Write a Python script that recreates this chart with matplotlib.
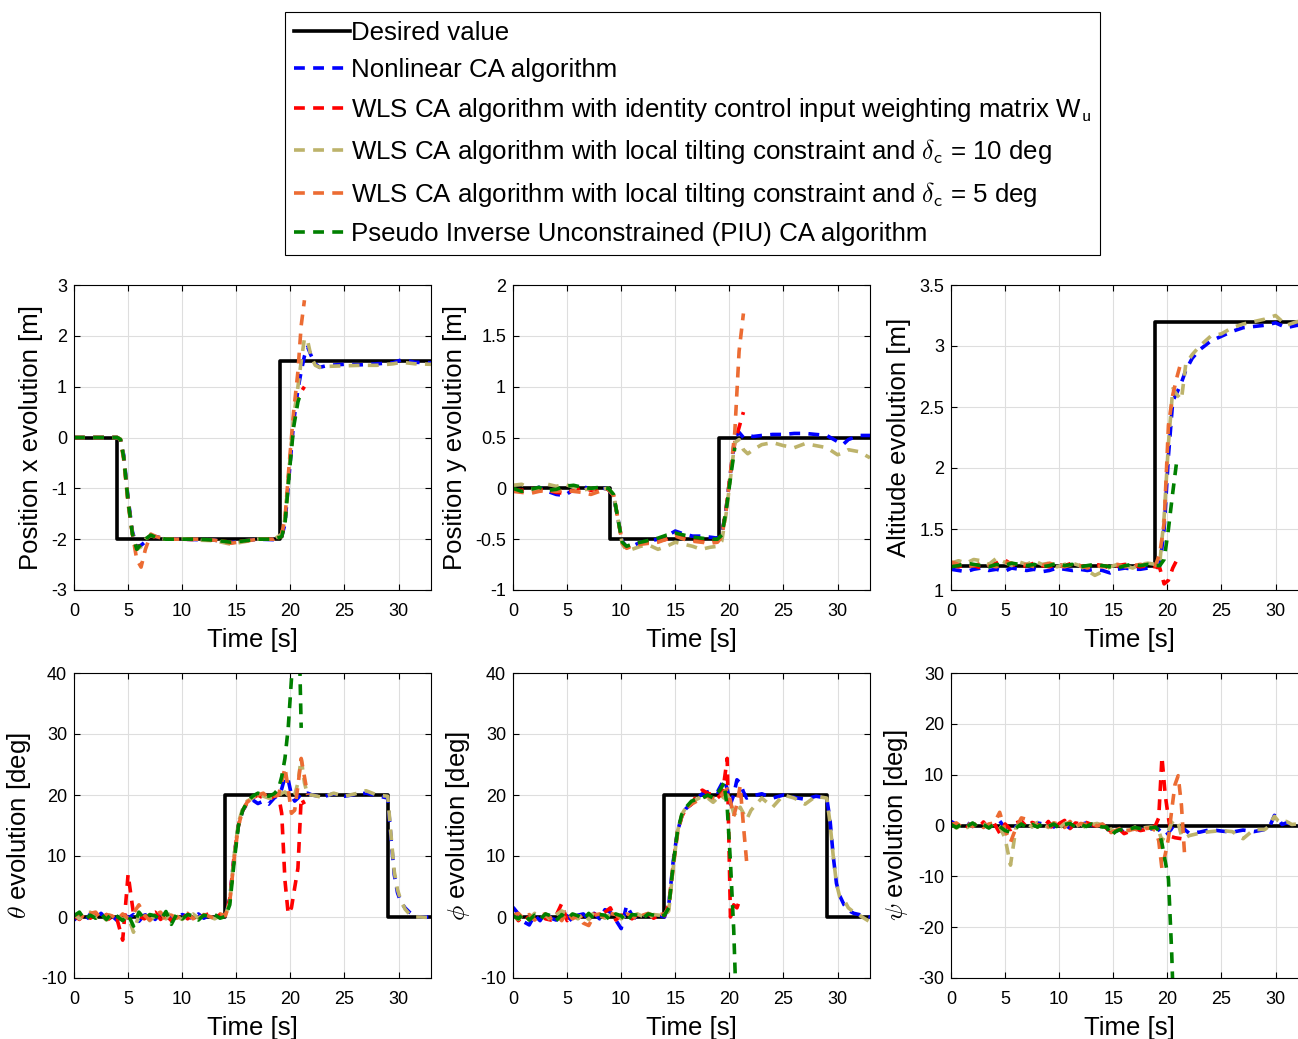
import matplotlib
matplotlib.use("Agg")
import matplotlib.pyplot as plt

plt.rcParams["font.family"] = ["Liberation Sans", "DejaVu Sans"]
plt.rcParams["mathtext.fontset"] = "cm"

# ── Data ─────────────────────────────────────────────────────────────────────
# desired (reference) step signals
T_DES_X = [0, 4, 19, 33]
X_DES = [0, -2, 1.5, 1.5]
T_DES_Y = [0, 9, 19, 33]
Y_DES = [0, -0.5, 0.5, 0.5]
T_DES_Z = [0, 18.9, 33]
Z_DES = [1.2, 3.2, 3.2]
T_DES_ATT = [0, 14, 29, 33]
TH_DES = [0, 20, 0, 0]
PH_DES = [0, 20, 0, 0]
T_DES_PS = [0, 33]
PS_DES = [0, 0]

# position x
T_X = [0, 2, 4, 4.3, 4.6, 5.0, 5.4, 5.8, 6.2, 6.6, 7.1, 7.6, 8.5, 10, 11.5, 13, 14.5,
       15.5, 17, 18.5, 19.2, 19.5, 19.9, 20.3, 20.7, 21.0, 21.3, 21.6, 21.9, 22.3,
       22.7, 23.5, 25, 26.5, 28, 29.5, 30.3, 31.5, 33]
X_NL = [0, 0, 0, -0.05, -0.35, -1.2, -1.85, -2.15, -2.12, -2.05, -1.93, -1.95, -2.0,
        -2.0, -2.01, -2.02, -2.07, -2.04, -2.0, -2.01, -1.95, -1.7, -0.7, 0.3, 0.95,
        1.3, 1.6, 1.78, 1.62, 1.45, 1.38, 1.42, 1.44, 1.43, 1.45, 1.47, 1.53, 1.48, 1.47]
X_WLS = [0, 0, 0, -0.04, -0.4, -1.25, -1.9, -2.2, -2.1, -2.0, -1.93, -1.97, -2.0, -2.0,
         -2.01, -2.02, -2.06, -2.04, -2.0, -2.0, -1.95, -1.65, -0.6, 0.3, 0.8, 0.9, 1.0]
X_T10 = [0, 0, 0, -0.03, -0.4, -1.3, -1.9, -2.2, -2.15, -2.0, -1.92, -1.97, -2.0, -1.99,
         -2.02, -2.03, -2.1, -2.06, -2.0, -2.0, -1.9, -1.6, -0.6, 0.4, 1.0, 1.5, 1.95,
         1.9, 1.6, 1.42, 1.38, 1.4, 1.41, 1.42, 1.42, 1.45, 1.48, 1.45, 1.44]
X_T5 = [0, 0, 0, -0.05, -0.45, -1.3, -1.9, -2.4, -2.55, -2.2, -1.9, -1.95, -2.0, -2.0,
        -2.0, -2.02, -2.08, -2.05, -2.0, -2.0, -1.9, -1.6, -0.5, 0.5, 1.3, 2.2, 2.7]
X_PIU = [0, 0, 0, -0.04, -0.4, -1.25, -1.9, -2.2, -2.1, -2.0, -1.92, -1.97, -2.0, -2.0,
         -2.0, -2.02, -2.06, -2.04, -2.0, -2.0, -1.95, -1.7, -0.7, 0.2, 0.7, 0.9]

# position y
T_Y = [0, 0.8, 1.6, 2.4, 3.2, 4.0, 4.8, 5.6, 6.4, 7.2, 8.0, 8.8, 9.3, 9.7, 10.1, 10.5,
       11.0, 11.8, 12.6, 13.4, 14.2, 15.0, 15.8, 16.6, 17.4, 18.2, 18.9, 19.3, 19.7,
       20.1, 20.5, 20.9, 21.3, 21.7, 22.2, 23, 24, 25, 26, 27, 28, 29, 30, 30.5, 31, 32, 33]
Y_NL = [-0.02, -0.03, -0.02, 0.01, -0.03, -0.06, -0.07, -0.01, 0.02, -0.01, 0.01, -0.01,
        -0.08, -0.3, -0.52, -0.58, -0.57, -0.53, -0.52, -0.5, -0.47, -0.42, -0.45, -0.47,
        -0.47, -0.48, -0.49, -0.45, -0.2, 0.15, 0.5, 0.55, 0.5, 0.52, 0.51, 0.52, 0.53,
        0.53, 0.54, 0.54, 0.53, 0.52, 0.46, 0.43, 0.48, 0.52, 0.52]
Y_WLS = [-0.01, -0.02, 0.0, -0.01, -0.02, -0.04, -0.05, -0.02, 0.01, -0.02, 0.0, -0.01,
         -0.07, -0.3, -0.53, -0.58, -0.56, -0.54, -0.53, -0.52, -0.5, -0.46, -0.49, -0.51,
         -0.52, -0.52, -0.51, -0.46, -0.2, 0.15, 0.45, 0.6, 0.75]
Y_T10 = [0.03, 0.04, 0.0, -0.02, 0.04, 0.02, 0.04, 0.01, -0.02, 0.0, -0.01, 0.0,
         -0.06, -0.3, -0.55, -0.61, -0.6, -0.57, -0.56, -0.6, -0.57, -0.53, -0.55, -0.57,
         -0.6, -0.58, -0.57, -0.52, -0.25, 0.1, 0.45, 0.48, 0.38, 0.34, 0.38, 0.43, 0.45,
         0.42, 0.4, 0.44, 0.42, 0.4, 0.33, 0.35, 0.38, 0.36, 0.3]
Y_T5 = [-0.03, -0.04, -0.05, -0.03, -0.02, -0.03, -0.02, -0.03, -0.04, -0.06, -0.03, -0.01,
        -0.07, -0.3, -0.54, -0.59, -0.57, -0.55, -0.54, -0.53, -0.5, -0.47, -0.5, -0.52,
        -0.53, -0.54, -0.53, -0.48, -0.22, 0.15, 0.55, 1.35, 1.72]
Y_PIU = [0.0, -0.03, -0.01, 0.01, -0.02, -0.01, 0.02, 0.03, 0.01, 0.0, 0.01, 0.0,
         -0.06, -0.3, -0.53, -0.57, -0.55, -0.53, -0.51, -0.49, -0.46, -0.44, -0.46, -0.48,
         -0.49, -0.5, -0.5, -0.46, -0.22, 0.1, 0.4]

# altitude
T_Z = [0, 0.7, 1.4, 2.1, 2.8, 3.5, 4.2, 4.9, 5.6, 6.3, 7.0, 7.7, 8.4, 9.1, 9.8, 10.5,
       11.2, 11.9, 12.6, 13.3, 14.0, 14.7, 15.4, 16.1, 16.8, 17.5, 18.2, 18.9, 19.3,
       19.7, 20.1, 20.5, 20.9, 21.3, 21.7, 22.3, 23, 24, 25, 26, 27, 28, 29, 30, 31, 32, 33]
Z_NL = [1.17, 1.16, 1.15, 1.17, 1.18, 1.16, 1.17, 1.15, 1.18, 1.17, 1.16, 1.17, 1.15, 1.16,
        1.18, 1.17, 1.16, 1.17, 1.16, 1.17, 1.16, 1.14, 1.17, 1.18, 1.17, 1.17, 1.18, 1.18,
        1.2, 1.5, 2.1, 2.55, 2.62, 2.7, 2.8, 2.9, 2.97, 3.04, 3.08, 3.12, 3.15, 3.16, 3.17,
        3.19, 3.15, 3.17, 3.16]
Z_WLS = [1.2, 1.19, 1.21, 1.2, 1.18, 1.2, 1.22, 1.25, 1.21, 1.19, 1.2, 1.22, 1.2, 1.19,
         1.21, 1.2, 1.22, 1.2, 1.19, 1.21, 1.2, 1.18, 1.2, 1.21, 1.2, 1.19, 1.2, 1.19,
         1.18, 1.05, 1.08, 1.18, 1.25, 1.25]
Z_T10 = [1.22, 1.24, 1.22, 1.25, 1.24, 1.21, 1.26, 1.23, 1.2, 1.23, 1.21, 1.24, 1.21, 1.22,
         1.19, 1.21, 1.22, 1.2, 1.16, 1.12, 1.15, 1.19, 1.21, 1.2, 1.18, 1.21, 1.22, 1.21,
         1.22, 1.6, 2.2, 2.65, 2.6, 2.56, 2.85, 2.93, 3.0, 3.08, 3.1, 3.15, 3.18, 3.2,
         3.22, 3.25, 3.17, 3.2, 3.2]
Z_T5 = [1.23, 1.21, 1.19, 1.2, 1.22, 1.2, 1.19, 1.23, 1.22, 1.2, 1.21, 1.19, 1.2, 1.22,
        1.2, 1.19, 1.21, 1.2, 1.18, 1.2, 1.19, 1.2, 1.21, 1.19, 1.2, 1.21, 1.2, 1.2,
        1.3, 1.55, 2.35, 2.6, 2.75, 2.88]
Z_PIU = [1.19, 1.2, 1.22, 1.21, 1.2, 1.19, 1.21, 1.2, 1.22, 1.21, 1.2, 1.21, 1.19, 1.2,
         1.22, 1.2, 1.21, 1.19, 1.2, 1.21, 1.2, 1.19, 1.18, 1.2, 1.21, 1.2, 1.21, 1.2,
         1.2, 1.25, 1.5, 1.8, 2.08]

# attitude (theta, phi, psi share one time base)
T_ATT = [0, 0.5, 1, 1.5, 2, 2.5, 3, 3.5, 4, 4.5, 5, 5.5, 6, 6.5, 7, 7.5, 8, 8.5, 9, 9.5,
         10, 10.5, 11, 11.5, 12, 12.5, 13, 13.5, 14, 14.4, 14.8, 15.2, 15.6, 16.0, 16.5,
         17.0, 17.5, 18.0, 18.5, 18.9, 19.2, 19.5, 19.8, 20.1, 20.4, 20.7, 21.0, 21.3,
         21.6, 22, 23, 24, 25, 26, 27, 28, 29.0, 29.3, 29.6, 29.9, 30.2, 30.6, 31, 31.5,
         32, 33]

TH_NL = [-0.5, 0.3, -0.8, 0.5, -0.3, 0.6, -0.4, 0.2, -0.6, 0.8, -0.2, 0.4, -0.7, 0.3,
         0.5, -0.4, 0.6, -0.3, 0.2, -0.5, 0.4, 0.1, -0.3, 0.5, -0.2, 0.3, -0.1, 0.2, 0.0,
         3, 10, 15, 17.5, 18.5, 19.2, 18.6, 19, 18.5, 19.5, 20, 21, 23, 22.5, 20, 19,
         19.5, 20.2, 20, 20.3, 20, 19.7, 20.2, 19.8, 20.1, 20.3, 19.9, 19.5, 13, 7, 4,
         2.5, 1.5, 0.8, 0.1, 0, 0]
TH_WLS = [0.2, -0.4, 0.5, -0.2, 0.3, -0.5, 0.4, -1.0, -0.5, -3.8, 7.0, 0.5, 0.2, -0.3,
          0.5, 0.8, -0.4, 0.3, -0.6, 0.2, 0.5, -0.3, 0.4, -0.2, 0.3, 0.5, -0.1, 0.4, 0.2,
          3, 10, 15, 17.5, 18.7, 19.5, 20, 19.5, 19.3, 19.8, 20, 17, 6, 0.5, 1.5, 4.8,
          8, 19.5, 18.5]
TH_T10 = [0.5, -0.3, 0.4, 0.8, -0.2, 0.3, -0.5, 0.6, 0.2, -0.4, 0.1, -2.5, 0.3, 0.5,
          -0.6, 0.2, 0.4, -0.3, 0.9, 0.1, -0.4, 0.3, 0.5, -0.2, 0.4, 0.1, -0.3, 0.2, 0.3,
          2.5, 10, 15.5, 17.8, 19, 19.5, 20.3, 19.8, 19.5, 19.5, 19.8, 20.3, 20.5, 20,
          19.5, 20, 22, 26, 22, 20, 20, 19.6, 20.3, 19.8, 20.2, 20.7, 20, 19.8, 13.5, 7.5,
          4.5, 2.8, 1.3, 0.5, 0, 0, -0.1]
TH_T5 = [0.3, 0.5, -0.2, 0.6, 0.8, -0.3, 0.4, 0.2, -0.4, 0.5, -0.2, 0.6, 2.0, 0.3,
         -0.5, 0.4, 0.8, -0.6, 0.3, -0.2, 0.5, 0.6, -0.3, 0.2, 0.4, 0.1, -0.2, 0.5, 0.2,
         2.5, 9.5, 15, 17.5, 18.8, 19.5, 20, 20.3, 19.5, 19.8, 20, 22, 24.5, 21, 17,
         17.5, 21.5, 26, 23, 20]
TH_PIU = [0.2, 0.8, -0.5, 0.3, -0.2, 0.5, -0.4, 0.6, 0.1, -0.6, 0.4, -1.5, 0.8, -0.3,
          0.4, 0.2, -0.5, 0.9, -1.2, 0.5, -0.3, 0.4, 0.2, -0.5, 0.3, 0.1, 0.4, -0.2, 0.1,
          2, 9, 15, 17.5, 18.8, 19.8, 20.3, 20, 19.8, 20.2, 21, 23, 26, 31, 39, 47, 55, 31]

PH_NL = [1.6, 0.5, -0.8, -1.3, 0.3, -0.6, 0.8, -0.2, -0.5, 0.4, 0.2, -0.7, 0.3, 0.5,
         -0.4, 0.6, -0.3, 1.2, 0.8, -0.5, -1.9, 1.9, 0.3, -0.4, 0.2, 0.5, -0.1, 0.3, 0.0,
         2, 9, 14, 16.5, 17.8, 18.5, 19.5, 20.2, 20.5, 20.8, 20.5, 21.5, 22.5, 21, 18.5,
         20, 22.5, 22, 20.5, 19.5, 19.8, 20.2, 19.5, 20, 19.6, 19.3, 19.8, 19.5, 16, 10,
         5.5, 3.5, 2, 1.1, 0.6, 0.4, 0]
PH_WLS = [0.5, -0.6, 0.3, -0.4, 0.2, 0.6, -0.3, -0.5, 0.3, 2.2, -0.6, 0.4, -0.2, 0.3,
          -0.4, 0.5, 0.2, 0.8, 1.5, -0.5, 0.3, 0.2, -0.3, 0.4, 0.1, 0.5, -0.2, 0.3, 0.2,
          2, 8.5, 14, 16.5, 17.8, 18.5, 20, 20.8, 20.3, 20, 19.5, 20, 22, 26, 0, 2, 1.5, 3.0]
PH_T10 = [0.2, -0.4, 0.5, -0.3, 0.6, -0.2, 0.3, -0.5, 0.4, 1.0, 0.5, 0.2, -0.3, 0.6,
          -0.4, 0.8, 0.3, -0.2, 0.5, 0.7, -0.3, 0.4, 0.2, 0.5, 0.1, -0.2, 0.4, 0.3, 0.2,
          1, 8, 14, 16.8, 18, 18.8, 19.3, 19.8, 19.5, 18.8, 19.5, 20, 19.5, 20, 19, 17,
          16.5, 18, 17, 16, 17.5, 19.5, 18, 20, 19.5, 18.5, 19.8, 19.5, 15.5, 10, 5.5,
          3.3, 2.8, 1.5, 0.8, 0.3, -0.8]
PH_T5 = [0.3, 0.6, -0.3, 0.4, -0.5, 0.3, 0.5, -0.2, 0.4, -0.6, 0.8, -0.3, 0.2, -1.0,
         -1.4, 0.3, 0.5, -0.2, 0.6, 0.4, -0.3, 0.5, 0.2, -0.4, 0.3, 0.6, 0.2, 0.4, 0.5,
         1.5, 8, 13.5, 16.5, 17.8, 18.5, 19, 19.5, 19.8, 19.5, 19.2, 19.8, 20.5, 21, 19,
         16.5, 18.5, 21.5, 15, 9]
PH_PIU = [0.2, -0.3, 0.6, -0.5, 0.3, -0.4, 0.5, 0.2, -0.6, 0.4, -0.3, 0.5, 0.2, -0.4,
          0.6, -0.3, 0.4, 0.3, -0.5, 0.5, 0.2, -0.8, 0.4, 0.3, -0.2, 0.5, 0.3, 0.1, 0.3,
          1.5, 8.5, 14, 16.8, 18, 19, 19.3, 19.5, 20, 19.5, 20.3, 21, 22, 18, 9, -2, -18]

PS_NL = [0.8, 0.2, -0.3, 0.5, -0.2, 0.6, 0.3, -0.4, 0.5, 0.9, -0.5, 0.2, -0.3, 0.4,
         0.1, -0.2, 0.5, 0.3, 0.6, -0.3, 0.4, 0.1, -0.5, 0.3, 0.2, 0.5, 0.1, -0.3, 0.2,
         -0.5, -1.6, -1.2, -0.8, -1.3, -1.0, -0.6, -0.9, -0.5, -0.7, -0.4, -0.8, -1.5,
         -2, -1.5, -0.5, -1.0, -1.5, -1.2, -0.8, -1.5, -1.3, -0.8, -1.1, -1.3, -0.9,
         -1.2, -0.8, -0.5, 0.5, 2.0, 1.5, 0.2, 0.5, 0.3, 0.1, 0.0]
PS_WLS = [0.4, -0.3, 0.6, -0.2, 0.3, -0.5, 0.7, -0.6, 0.4, -1.5, 0.3, -0.8, 0.5, 0.9,
          -0.3, 0.6, 0.2, -0.5, 0.8, -1.0, 0.4, 1.0, -0.6, 0.5, 0.3, 0.6, 0.2, -0.2, 0.3,
          -0.6, -1.2, -1.5, -0.8, -1.6, -1.2, -0.5, -1.0, -0.8, -0.4, 0, 1.5, 13.5, 6,
          1.5, -2.2, -2.4, -2.5, -2.6]
PS_T10 = [0.3, -0.5, 0.2, -0.4, 0.3, -0.2, 0.4, -0.3, 0.5, -0.2, -2.5, -7.8, -0.5, 0.8,
          0.5, -0.3, 0.6, 0.2, -0.4, 0.5, -0.5, 0.4, 0.6, -0.2, 0.3, -0.5, 0.2, 0.4, 0.1,
          0.2, -0.8, -1.2, -0.5, -0.8, -1.0, -0.3, -0.6, -0.4, -0.3, -0.6, -1.0, -3, -2,
          -1, 0.5, 1.2, 0.5, -2, -2.5, -2, -1.5, -1.2, -1.0, -1.2, -2.6, -0.8, -0.8,
          -0.3, 0.8, 1.8, 1.0, 0.5, 0.8, 0.2, 0.3, 0.1]
PS_T5 = [0.2, 0.5, -0.3, 0.4, -0.2, 0.6, -0.4, 0.3, 0.5, 2.6, -1.0, -3.3, -0.5, 1.5,
         1.2, 0.4, -0.3, 0.6, -0.2, 0.5, 0.3, -0.4, 0.8, -0.3, 0.4, 0.2, 0.5, -0.1, 0.3,
         -0.5, -1.4, -1.0, -0.6, -1.2, -0.9, -0.7, -1.1, -0.6, -0.5, -1.0, -3, -8.5,
         -5.7, -2.5, 3, 8, 9.8, 4, -6]
PS_PIU = [0.2, -0.4, 0.3, -0.2, 0.5, -0.3, 0.2, -0.5, 0.3, -0.2, -1.0, -1.3, -0.5, 0.3,
          -0.4, 0.2, -0.3, 0.4, -0.2, 0.3, -0.5, 0.2, 0.4, -0.3, 0.2, -0.2, 0.3, -0.1,
          -0.3, -0.3, -2.0, -1.2, -0.8, -1.0, -0.7, -0.4, -0.6, -0.3, -0.5, -0.3, -1,
          -3.5, -7, -10.5, -25, -45]

LABELS = [
    "Desired value",
    "Nonlinear CA algorithm",
    r"WLS CA algorithm with identity control input weighting matrix W$_\mathsf{u}$",
    r"WLS CA algorithm with local tilting constraint and $\delta_\mathsf{c}$ = 10 deg",
    r"WLS CA algorithm with local tilting constraint and $\delta_\mathsf{c}$ = 5 deg",
    "Pseudo Inverse Unconstrained (PIU) CA algorithm",
]
COLORS = ["black", "#0000FF", "#FF0000", "#BDB36B", "#EC6C33", "#008000"]

# ── Panels ────────────────────────────────────────────────────────────────────
panels = [
    dict(t=T_X, series=[X_NL, X_WLS, X_T10, X_T5, X_PIU], td=T_DES_X, des=X_DES,
         ylim=(-3, 3), yticks=[-3, -2, -1, 0, 1, 2, 3],
         ylabel="Position x evolution [m]"),
    dict(t=T_Y, series=[Y_NL, Y_WLS, Y_T10, Y_T5, Y_PIU], td=T_DES_Y, des=Y_DES,
         ylim=(-1, 2), yticks=[-1, -0.5, 0, 0.5, 1, 1.5, 2],
         ylabel="Position y evolution [m]"),
    dict(t=T_Z, series=[Z_NL, Z_WLS, Z_T10, Z_T5, Z_PIU], td=T_DES_Z, des=Z_DES,
         ylim=(1, 3.5), yticks=[1, 1.5, 2, 2.5, 3, 3.5],
         ylabel="Altitude evolution [m]"),
    dict(t=T_ATT, series=[TH_NL, TH_WLS, TH_T10, TH_T5, TH_PIU], td=T_DES_ATT, des=TH_DES,
         ylim=(-10, 40), yticks=[-10, 0, 10, 20, 30, 40],
         ylabel=r"$\theta$ evolution [deg]"),
    dict(t=T_ATT, series=[PH_NL, PH_WLS, PH_T10, PH_T5, PH_PIU], td=T_DES_ATT, des=PH_DES,
         ylim=(-10, 40), yticks=[-10, 0, 10, 20, 30, 40],
         ylabel=r"$\phi$ evolution [deg]"),
    dict(t=T_ATT, series=[PS_NL, PS_WLS, PS_T10, PS_T5, PS_PIU], td=T_DES_PS, des=PS_DES,
         ylim=(-30, 30), yticks=[-30, -20, -10, 0, 10, 20, 30],
         ylabel=r"$\psi$ evolution [deg]"),
]

W, H = 1298, 1039
fig = plt.figure(figsize=(W / 100, H / 100), dpi=100)

lefts = [74, 513, 951]
tops = [285, 673]
ax_w, ax_h = 357, 305

LW = 2.6
DASH = (3.0, 2.3)

handles = None
for k, p in enumerate(panels):
    row, col = divmod(k, 3)
    ax = fig.add_axes([lefts[col] / W, 1 - (tops[row] + ax_h) / H, ax_w / W, ax_h / H])

    lines = ax.plot(p["td"], p["des"], color=COLORS[0], lw=LW, drawstyle="steps-post")
    for s, c in zip(p["series"], COLORS[1:]):
        lines += ax.plot(p["t"][:len(s)], s, color=c, lw=LW, linestyle="--", dashes=DASH)
    if handles is None:
        handles = lines

    ax.set_xlim(0, 33)
    ax.set_ylim(*p["ylim"])
    ax.set_xticks([0, 5, 10, 15, 20, 25, 30])
    ax.set_yticks(p["yticks"])
    ax.set_yticklabels([f"{v:g}" for v in p["yticks"]])
    ax.grid(True, color="#DEDEDE", lw=0.8)
    ax.set_axisbelow(True)
    ax.tick_params(direction="in", top=True, right=True, length=4, width=0.8,
                   labelsize=13)
    ax.tick_params(axis="x", pad=9)
    ax.tick_params(axis="y", pad=5)
    for sp in ax.spines.values():
        sp.set_linewidth(0.8)
    ax.set_xlabel("Time [s]", fontsize=18.5, labelpad=6)
    ax.set_ylabel(p["ylabel"], fontsize=18.5, labelpad=6)

leg = fig.legend(handles, LABELS, loc="upper left",
                 bbox_to_anchor=(285 / W, 1 - 12 / H), bbox_transform=fig.transFigure,
                 fontsize=18.6, handlelength=2.15, handletextpad=0.05, borderpad=0.35,
                 labelspacing=0.52, borderaxespad=0, frameon=True, fancybox=False,
                 framealpha=1, edgecolor="black")
leg.get_frame().set_linewidth(0.8)

fig.savefig("out.png", dpi=100)
